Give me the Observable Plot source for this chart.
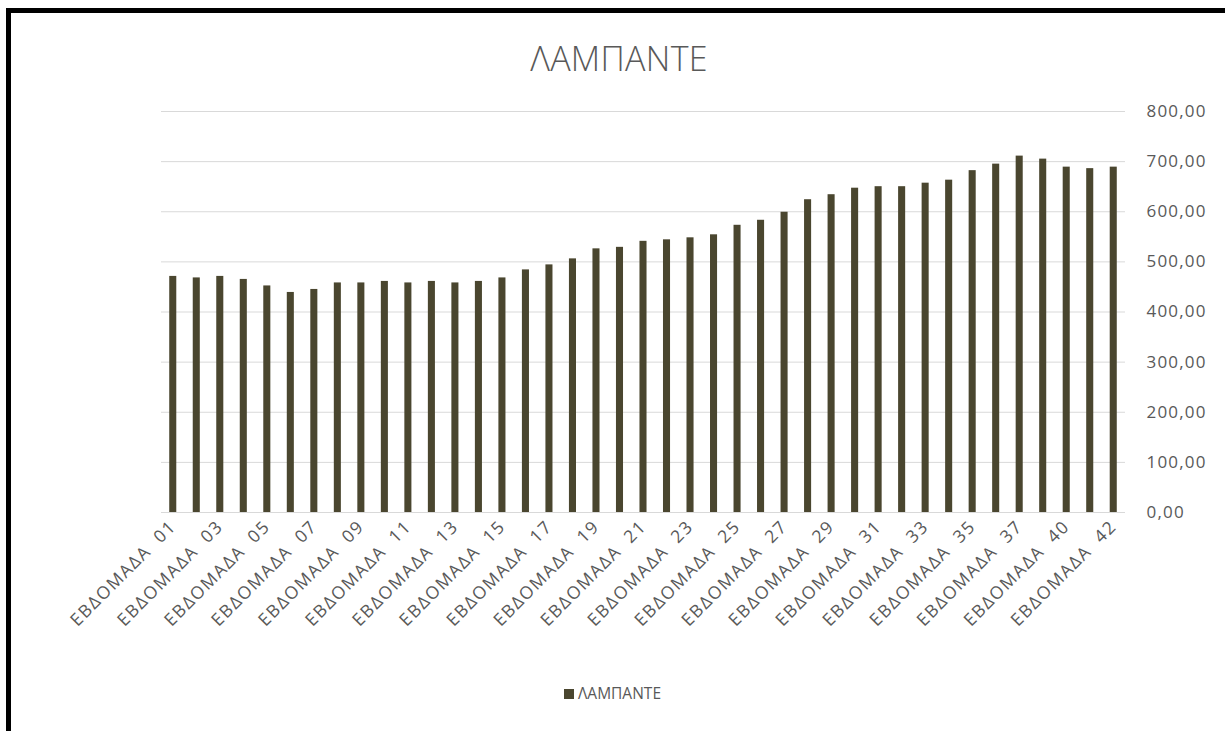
<!DOCTYPE html>
<html>
<head>
<meta charset="utf-8">
<script src="https://cdn.jsdelivr.net/npm/d3@7"></script>
<script src="https://cdn.jsdelivr.net/npm/@observablehq/plot@0.6"></script>
<style>
  html, body { margin: 0; padding: 0; background: #fff; width: 1225px; height: 731px; overflow: hidden; }
  #frame { position: absolute; left: 6px; top: 8px; width: 1219px; height: 723px; border-top: 5px solid #000; border-left: 5px solid #000; box-sizing: border-box; }
  #title { position: absolute; left: 0; top: 35px; width: 1238px; text-align: center; font-family: "Open Sans", sans-serif; font-weight: 300; font-size: 34px; color: #595959; letter-spacing: 0.3px; }
  #chart { position: absolute; left: 0; top: 90px; }
  #legend { position: absolute; left: 0; top: 682px; width: 1225px; text-align: center; font-family: "Open Sans", sans-serif; font-size: 15.5px; color: #595959; }
  #legend .sw { display: inline-block; width: 10px; height: 10px; background: #4a462f; margin-right: 4px; vertical-align: 0px; }
  #chart svg g[aria-label="y-axis tick label"] text { letter-spacing: 1.2px; }
  #chart svg g[aria-label="x-axis tick label"] text { letter-spacing: 1.6px; }
</style>
</head>
<body>
<div id="frame"></div>
<div id="title">ΛΑΜΠΑΝΤΕ</div>
<div id="chart"></div>
<div id="legend"><span class="sw"></span>ΛΑΜΠΑΝΤΕ</div>
<script>
const seriesName = "ΛΑΜΠΑΝΤΕ";
const weeks = ["01","02","03","04","05","06","07","08","09","10","11","12","13","14","15","16","17","18","19","20","21","22","23","24","25","26","27","28","29","30","31","32","33","34","35","36","37","38","40","41","42"];
const values = [471,468,471,465,452,439,445,458,458,461,458,461,458,461,468,484,494,506,526,529,541,544,548,554,573,583,599,624,634,647,650,650,657,663,682,695,711,705,689,686,689];
const yTicks = [0,100,200,300,400,500,600,700,800];

const categories = weeks.map(w => "ΕΒΔΟΜΑΔΑ\u00a0\u00a0" + w);
const data = categories.map((c, i) => ({week: c, value: values[i]}));
const shownTicks = categories.filter((c, i) => i % 2 === 0);

const fmt = v => d3.format(".2f")(v).replace(".", ",");

const chart = Plot.plot({
  width: 1225,
  height: 575,
  marginTop: 21,
  marginLeft: 161,
  marginRight: 100,
  marginBottom: 153,
  style: {fontFamily: "Open Sans, sans-serif", fontSize: "15px", color: "#595959", background: "transparent"},
  x: {domain: categories, paddingInner: 0.7, paddingOuter: 0.35, round: false, label: null},
  y: {domain: [0, 800], label: null},
  marks: [
    Plot.gridY(yTicks, {stroke: "#d9d9d9", strokeOpacity: 1, strokeWidth: 1}),
    Plot.barY(data, {x: "week", y: "value", fill: "#4a462f"}),
    Plot.axisY(yTicks, {anchor: "right", tickSize: 0, tickPadding: 21, textAnchor: "start", tickFormat: fmt, fontSize: 17, label: null}),
    Plot.axisX(shownTicks, {tickSize: 0, tickRotate: -45, tickPadding: 11, fontSize: 17.5, label: null})
  ]
});
document.getElementById("chart").appendChild(chart);
</script>
</body>
</html>
